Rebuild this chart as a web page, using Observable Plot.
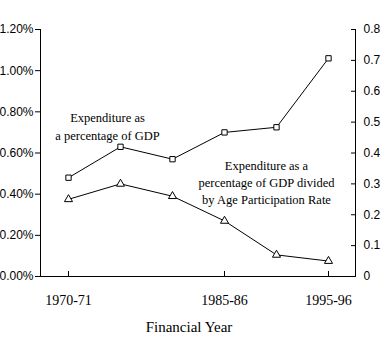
<!DOCTYPE html>
<html><head><meta charset="utf-8">
<script src="https://cdn.jsdelivr.net/npm/d3@7"></script>
<script src="https://cdn.jsdelivr.net/npm/@observablehq/plot@0.6"></script>
<style>body{margin:0;background:#fff}</style>
</head><body><div id="chart"></div>
<script>
const years = ["1970-71","1975-76","1980-81","1985-86","1990-91","1995-96"];
const labelledYears = ["1970-71","1985-86","1995-96"];
const gdpShare = [0.0048, 0.0063, 0.0057, 0.0070, 0.00725, 0.0106];
const perParticipation = [0.25, 0.30, 0.26, 0.18, 0.07, 0.05];
const leftTicks = [0, 0.002, 0.004, 0.006, 0.008, 0.010, 0.012];
const rightTicks = [0, 0.1, 0.2, 0.3, 0.4, 0.5, 0.6, 0.7, 0.8];
const ratio = 0.012 / 0.8;

const gdpData = years.map((y, i) => ({year: y, v: gdpShare[i]}));
const aprData = years.map((y, i) => ({year: y, v: perParticipation[i] * ratio}));

const serif = "'Liberation Serif', 'Times New Roman', serif";
const sans = "'Liberation Sans', Arial, sans-serif";

const chart = Plot.plot({
  width: 390, height: 353,
  marginLeft: 40, marginRight: 35, marginTop: 29, marginBottom: 77,
  style: {fontFamily: sans, fontSize: "12px", background: "white", color: "black"},
  x: {type: "point", domain: years, padding: 0.5, axis: null},
  y: {domain: [0, 0.012], axis: null},
  marks: [
    Plot.frame({anchor: "left", stroke: "black"}),
    Plot.frame({anchor: "right", stroke: "black"}),
    Plot.frame({anchor: "bottom", stroke: "black"}),
    Plot.axisY(leftTicks, {anchor: "left", tickSize: 5, tickPadding: 2, tickFormat: d3.format(".2%"), label: null, ariaLabel: "y-left"}),
    Plot.axisY(rightTicks.map(d => d * ratio), {anchor: "right", tickSize: -5, tickPadding: 13, tickFormat: d => d3.format(".1~f")(d / ratio), label: null, ariaLabel: "y-right"}),
    Plot.axisX(labelledYears, {anchor: "bottom", tickSize: -5, tickPadding: 24, fontFamily: serif, fontSize: 14, label: null, ariaLabel: "x-bottom"}),
    Plot.line(gdpData, {x: "year", y: "v", stroke: "black", strokeWidth: 1}),
    Plot.line(aprData, {x: "year", y: "v", stroke: "black", strokeWidth: 1}),
    Plot.dot(gdpData, {x: "year", y: "v", symbol: "square", r: 3, fill: "white", stroke: "black", strokeWidth: 1}),
    Plot.dot(aprData, {x: "year", y: "v", symbol: "triangle", r: 3, fill: "white", stroke: "black", strokeWidth: 1}),
    Plot.text(["Expenditure as\na percentage of GDP"], {x: () => "1975-76", y: () => 0.00737, dx: -13, fontFamily: serif, fontSize: 12.5, lineHeight: 1.45, textAnchor: "middle"}),
    Plot.text(["Expenditure as a\npercentage of GDP divided\nby Age Participation Rate"], {x: () => "1985-86", y: () => 0.00463, dx: 42, fontFamily: serif, fontSize: 12.5, lineHeight: 1.36, textAnchor: "middle"}),
    Plot.text(["Financial Year"], {frameAnchor: "bottom", dx: -9, dy: 55, fontFamily: serif, fontSize: 15})
  ]
});
// condensed look for tick labels (mimic narrow fonts)
chart.querySelectorAll("g[aria-label='y-left'] text, g[aria-label='y-right'] text").forEach(t => {
  const tr = t.getAttribute("transform") || "";
  t.setAttribute("transform", tr + " scale(0.85,1)");
});
chart.querySelectorAll("g[aria-label='x-bottom'] text").forEach(t => {
  const tr = t.getAttribute("transform") || "";
  t.setAttribute("transform", tr + " scale(0.8,1)");
});
document.getElementById("chart").appendChild(chart);
</script>
</body></html>
